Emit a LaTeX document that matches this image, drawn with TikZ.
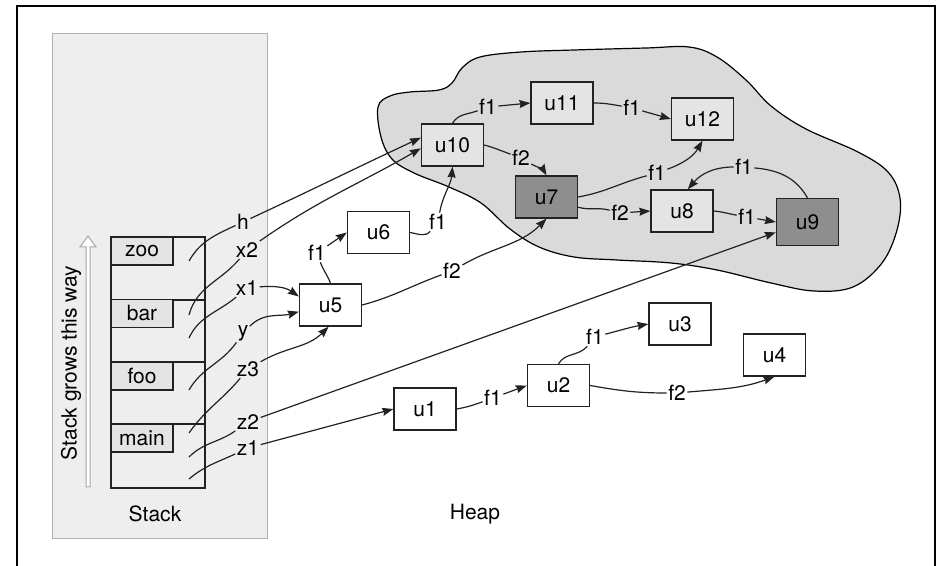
\documentclass[tikz,border=0pt]{standalone}
\usepackage{fontspec}
\setmainfont{TeX Gyre Heros}
\usetikzlibrary{arrows.meta}
\definecolor{panelfill}{HTML}{EEEEEE}
\definecolor{panelline}{HTML}{B0B0B0}
\definecolor{cloudfill}{HTML}{DADADA}
\definecolor{heapfill}{HTML}{E4E4E4}
\definecolor{darkfill}{HTML}{8E8E8E}
\definecolor{edgeline}{HTML}{222222}
\tikzset{
  txt/.style={font=\fontsize{10.5}{12.5}\selectfont},
  obj/.style={txt, draw=edgeline, line width=0.65pt, minimum width=31pt, minimum height=21pt, inner sep=0pt},
  wbox/.style={obj, fill=white},
  hbox/.style={obj, fill=heapfill},
  dbox/.style={obj, fill=darkfill},
  frlab/.style={txt, draw=edgeline, line width=0.6pt, fill=heapfill, minimum width=31pt, minimum height=14pt, inner sep=0pt},
  lab/.style={txt, inner sep=0.6pt},
  ln/.style={draw=edgeline, line width=0.6pt},
  arr/.style={ln, -{Stealth[length=5.5pt,width=4pt,inset=0.6pt]}},
}
\begin{document}
\begin{tikzpicture}[x=0.5pt,y=0.5pt]
\useasboundingbox (0,0) rectangle (937,-566);
% outer frame
\draw[line width=1pt] (17,-6) rectangle (935,-640);
% stack panel
\draw[fill=panelfill, draw=panelline, line width=0.5pt] (52,-34) rectangle (267,-538);
% cloud
\draw[fill=cloudfill, line width=0.6pt] plot[smooth cycle, tension=0.6] coordinates {
 (378,-107) (390,-96) (410,-92) (439,-90) (452,-83) (462,-68) (480,-57) (521,-52) (574,-50)
 (646,-48) (689,-47) (717,-57) (746,-80) (771,-106) (806,-129) (858,-152) (888,-172)
 (900,-198) (897,-230) (882,-263) (853,-287) (814,-291) (771,-283) (717,-270)
 (671,-263) (617,-260) (574,-257) (539,-247) (510,-229) (481,-203) (449,-187)
 (414,-173) (392,-159) (381,-137)};
% stack box
\draw[draw=edgeline, line width=0.6pt] (111,-237) rectangle (205,-488);
\draw[draw=edgeline, line width=0.6pt] (111,-300) -- (205,-300);
\draw[draw=edgeline, line width=0.6pt] (111,-362) -- (205,-362);
\draw[draw=edgeline, line width=0.6pt] (111,-424) -- (205,-424);
\node[frlab] (zoo) at (142,-251) {zoo};
\node[frlab] (bar) at (142,-313.5) {bar};
\node[frlab] (foo) at (142,-376) {foo};
\node[frlab] (main) at (142,-438) {main};
% grows arrow
\draw[fill=white, draw=gray!70, line width=0.5pt] (86,-487) -- (86,-247) -- (80,-247) -- (88,-236) -- (96,-247) -- (90,-247) -- (90,-487) -- cycle;
\node[txt, rotate=90] (grow) at (71,-363) {Stack grows this way};
\node[txt] (stacklab) at (155,-514) {Stack};
\node[txt] (heaplab) at (475,-514) {Heap};
% heap nodes
\node[hbox] (u10) at (452.5,-145) {u10};
\node[hbox] (u11) at (562,-103) {u11};
\node[hbox] (u12) at (702.5,-119) {u12};
\node[dbox] (u7) at (546.5,-197) {u7};
\node[hbox] (u8) at (682,-211) {u8};
\node[dbox, minimum height=23.5pt] (u9) at (807.5,-222) {u9};
\node[wbox] (u6) at (378.5,-232.5) {u6};
\node[wbox] (u5) at (330.5,-305) {u5};
\node[wbox] (u3) at (680,-324) {u3};
\node[wbox] (u4) at (774.5,-355) {u4};
\node[wbox] (u2) at (558.5,-385.5) {u2};
\node[wbox] (u1) at (425,-409) {u1};
% stack variable starts
\coordinate (sh) at (189,-261);
\coordinate (sx2) at (189,-315);
\coordinate (sx1) at (189,-338);
\coordinate (sy) at (189,-390);
\coordinate (sz3) at (189,-433);
\coordinate (sz2) at (189,-457);
\coordinate (sz1) at (189,-479);
% stack labels
\node[lab] (lh) at (243,-222) {h};
\node[lab] (lx2) at (247,-250) {x2};
\node[lab] (lx1) at (247,-288) {x1};
\node[lab] (ly) at (243,-333) {y};
\node[lab] (lz3) at (248,-369) {z3};
\node[lab] (lz2) at (248,-422) {z2};
\node[lab] (lz1) at (248,-448) {z1};
% stack edges
\draw[ln] (sh) to[out=60,in=205] (lh);
\draw[arr] (lh) to[out=25,in=205] (u10.167);
\draw[ln] (sx2) to[out=75,in=230] (lx2);
\draw[arr] (lx2) to[out=35,in=210] (u10.186);
\draw[ln] (sx1) to[out=65,in=220] (lx1);
\draw[arr] (lx1) to[out=5,in=145] (u5.165);
\draw[ln] (sy) to[out=60,in=235] (ly);
\draw[arr] (ly) to[out=45,in=195] (u5.192);
\draw[ln] (sz3) to[out=55,in=230] (lz3);
\draw[arr] (lz3) to[out=30,in=225] (u5.265);
\draw[ln] (sz2) to[out=45,in=215] (lz2);
\draw[arr] (lz2) -- (u9.198);
\draw[ln] (sz1) to[out=40,in=205] (lz1);
\draw[arr] (lz1) to[out=15,in=195] (u1.west);
% heap labels
\node[lab] (a1) at (488,-107) {f1};
\node[lab] (a2) at (632,-108) {f1};
\node[lab] (a3) at (521,-158) {f2};
\node[lab] (a4) at (657,-173) {f1};
\node[lab] (a5) at (620,-213) {f2};
\node[lab] (a6) at (747,-217) {f1};
\node[lab] (a7) at (744,-167) {f1};
\node[lab] (a8) at (438,-222) {f1};
\node[lab] (a9) at (317,-253) {f1};
\node[lab] (a10) at (452,-271) {f2};
\node[lab] (a11) at (493,-398) {f1};
\node[lab] (a12) at (595,-337) {f1};
\node[lab] (a13) at (677,-393) {f2};
% heap edges
\draw[ln] (u10.north) to[out=60,in=200] (a1);
\draw[arr] (a1) -- (u11.west);
\draw[ln] (u11.east) to[out=0,in=170] (a2);
\draw[arr] (a2) -- (u12.west);
\draw[ln] (u10.east) to[out=-15,in=160] (a3);
\draw[arr] (a3) to[out=-30,in=120] (u7.north);
\draw[ln] (u7.east) to[out=10,in=195] (a4);
\draw[arr] (a4) to[out=20,in=240] (u12.south);
\draw[ln] (u7.-18) to[out=-15,in=165] (a5);
\draw[arr] (a5) -- (u8.west);
\draw[ln] (u8.east) to[out=-5,in=170] (a6);
\draw[arr] (a6) -- (u9.west);
\draw[ln] (u9.north) to[out=120,in=-5] (a7);
\draw[arr] (a7) to[out=180,in=50] (u8.75);
\draw[ln] (u6.east) to[out=-10,in=230] (a8);
\draw[arr] (a8) to[out=80,in=-95] (u10.south);
\draw[ln] (u5.north) to[out=110,in=-70] (a9);
\draw[arr] (a9) -- (u6.west);
\draw[ln] (u5.east) to[out=15,in=200] (a10);
\draw[arr] (a10) to[out=30,in=225] (u7.south);
\draw[ln] (u1.east) to[out=10,in=200] (a11);
\draw[arr] (a11) -- (u2.west);
\draw[ln] (u2.north) to[out=60,in=230] (a12);
\draw[arr] (a12) to[out=15,in=190] (u3.west);
\draw[ln] (u2.east) to[out=-10,in=180] (a13);
\draw[arr] (a13) to[out=5,in=200] (u4.south);
\end{tikzpicture}
\end{document}
